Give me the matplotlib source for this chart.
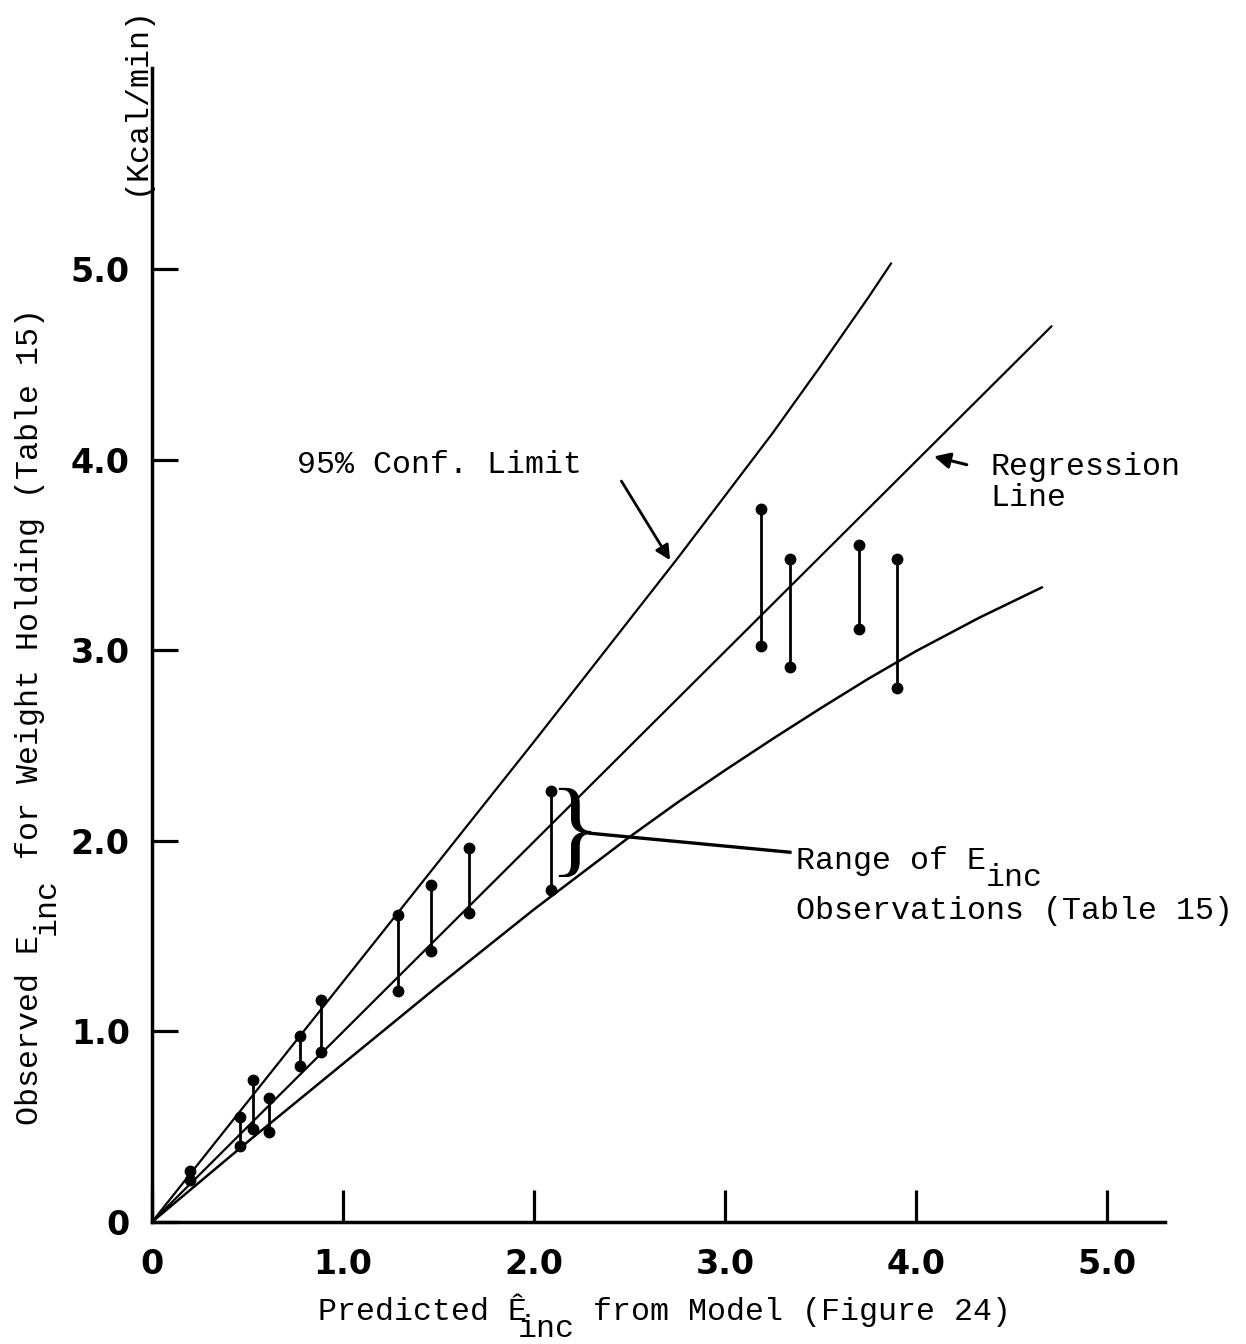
import matplotlib
matplotlib.use("Agg")
import matplotlib.pyplot as plt
from matplotlib.transforms import offset_copy

MONO = "Liberation Mono"
FS = 22.8                 # typewriter text size
CW = 0.6 * FS             # monospace char advance, points
SUB = 12                  # subscript drop, points

# observed ranges of E_inc at each predicted value
pred = [0.20, 0.46, 0.53, 0.61, 0.775, 0.885, 1.29, 1.46, 1.66, 2.09, 3.19, 3.34, 3.70, 3.90]
obs_hi = [0.27, 0.55, 0.745, 0.65, 0.975, 1.165, 1.61, 1.77, 1.96, 2.26, 3.74, 3.48, 3.55, 3.48]
obs_lo = [0.22, 0.40, 0.49, 0.47, 0.82, 0.89, 1.21, 1.42, 1.62, 1.74, 3.02, 2.91, 3.11, 2.80]

# regression line and 95% confidence limits
reg_x = [0.0, 4.71]
reg_y = [0.0, 4.70]
upper_x = [0.0, 0.5, 1.0, 1.5, 2.0, 2.5, 2.75, 3.0, 3.25, 3.5, 3.75, 3.87]
upper_y = [0.0, 0.63, 1.26, 1.89, 2.52, 3.16, 3.48, 3.81, 4.14, 4.49, 4.85, 5.03]
lower_x = [0.0, 0.5, 1.0, 1.5, 2.0, 2.5, 2.75, 3.0, 3.25, 3.5, 3.75, 4.0, 4.33, 4.66]
lower_y = [0.0, 0.42, 0.83, 1.24, 1.64, 2.02, 2.20, 2.37, 2.535, 2.695, 2.85, 2.995, 3.17, 3.33]

ticks = [0, 1, 2, 3, 4, 5]
tick_labels = ["0", "1.0", "2.0", "3.0", "4.0", "5.0"]


def sub_text(x, y, trans, pre, sub, post, sub_at, post_at, rot=False):
    """typewriter text with a full-size 'inc' subscript, placed by character cells"""
    kw = dict(family=MONO, fontsize=FS, ha="left", va="baseline",
              rotation=90 if rot else 0, rotation_mode="anchor")
    def off(chars, drop):
        if rot:
            return offset_copy(trans, fig=fig, x=drop, y=chars * CW, units="points")
        return offset_copy(trans, fig=fig, x=chars * CW, y=-drop, units="points")
    fig.text(x, y, pre, transform=off(0, 0), **kw)
    fig.text(x, y, sub, transform=off(sub_at, SUB), **kw)
    if post:
        fig.text(x, y, post, transform=off(post_at, 0), **kw)


fig = plt.figure(figsize=(12.46, 13.44), dpi=100)
ax = fig.add_axes([0.1220, 0.0908, 0.8130, 0.8586])
ax.set_xlim(0, 5.304)
ax.set_ylim(0, 6.055)

ax.plot(reg_x, reg_y, color="black", lw=1.6, solid_capstyle="round")
ax.plot(upper_x, upper_y, color="black", lw=1.6, solid_capstyle="round")
ax.plot(lower_x, lower_y, color="black", lw=1.8, solid_capstyle="round")

ax.vlines(pred, obs_lo, obs_hi, color="black", lw=2)
ax.plot(pred, obs_hi, "o", color="black", ms=7.5)
ax.plot(pred, obs_lo, "o", color="black", ms=7.5)

# annotations
ax.text(0.76, 3.97, "95% Conf. Limit", family=MONO, fontsize=FS, ha="left", va="center")
ax.annotate("", xy=(2.72, 3.46), xytext=(2.45, 3.90),
            arrowprops=dict(arrowstyle="-|>", color="black", lw=2, mutation_scale=22))
ax.text(4.39, 3.96, "Regression", family=MONO, fontsize=FS, ha="left", va="center")
ax.text(4.39, 3.80, "Line", family=MONO, fontsize=FS, ha="left", va="center")
ax.annotate("", xy=(4.08, 4.02), xytext=(4.28, 3.97),
            arrowprops=dict(arrowstyle="-|>", color="black", lw=2.2, mutation_scale=24))
sub_text(3.37, 1.85, ax.transData, "Range of E", "inc", "", 10, 13)
ax.text(3.37, 1.63, "Observations (Table 15)", family=MONO, fontsize=FS, ha="left", va="center")
ax.plot([2.29, 3.34], [2.04, 1.94], color="black", lw=2.4)
ax.text(2.21, 2.02, "}", family="Liberation Serif", fontsize=78, ha="center", va="center")

# axes styling
for sp in ("top", "right"):
    ax.spines[sp].set_visible(False)
for sp in ("left", "bottom"):
    ax.spines[sp].set_linewidth(2.5)
ax.set_xticks(ticks)
ax.set_xticklabels(tick_labels)
ax.set_yticks(ticks)
ax.set_yticklabels(tick_labels)
ax.tick_params(axis="x", direction="in", length=23, width=2.3, pad=19)
ax.tick_params(axis="y", direction="in", length=19, width=2.3, pad=16)
for lab in ax.get_xticklabels() + ax.get_yticklabels():
    lab.set_fontweight("bold")
    lab.set_fontsize(24)
    lab.set_family("DejaVu Sans")

# axis titles (typewriter style, subscripts set by hand)
sub_text(318 / 1246, 1 - 1320 / 1344, fig.transFigure,
         "Predicted \u00ca", "inc", " from Model (Figure 24)", 10.5, 13.5)
sub_text(38 / 1246, 1 - 1125 / 1344, fig.transFigure,
         "Observed E", "inc", " for Weight Holding (Table 15)", 10, 13, rot=True)
fig.text(136 / 1246, 1 - 100 / 1344, "(Kcal/min)",
         family=MONO, fontsize=FS, ha="center", va="center", rotation=90)

fig.savefig("out.png", dpi=100)
